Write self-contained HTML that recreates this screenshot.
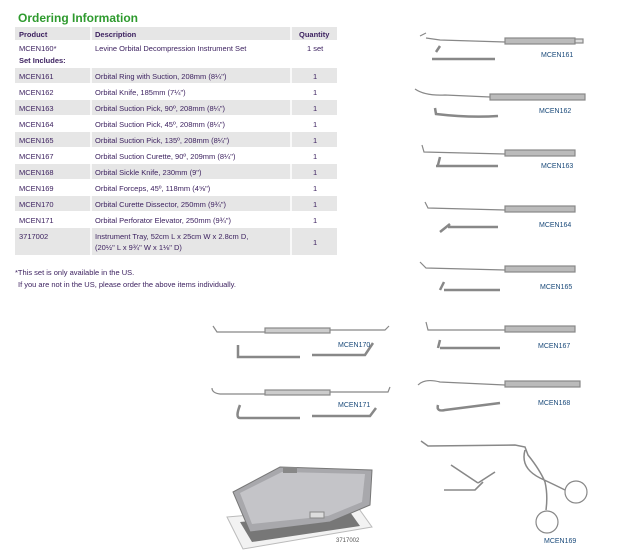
<!DOCTYPE html>
<html><head><meta charset="utf-8"><style>
body{margin:0;width:624px;height:559px;background:#fff;position:relative;overflow:hidden;font-family:"Liberation Sans",sans-serif}
.t{position:absolute;font-size:7.5px;color:#3d2260;white-space:nowrap}
.h{position:absolute;left:18px;top:11px;font-size:12px;font-weight:bold;color:#2e9a2e}
.r{position:absolute;left:15px;width:322px;}
.g{background:#e6e6e6}
.lbl{position:absolute;font-size:7px;color:#1a4a7a}
</style></head><body>
<div class="h">Ordering Information</div>
<div class="r g" style="top:27px;height:13px"></div>
<div class="r g" style="top:68px;height:15px"></div>
<div class="r g" style="top:100px;height:15px"></div>
<div class="r g" style="top:132px;height:15px"></div>
<div class="r g" style="top:164px;height:15px"></div>
<div class="r g" style="top:196px;height:15px"></div>
<div class="r g" style="top:228px;height:27px"></div>
<svg style="position:absolute;left:0;top:0" width="624" height="559">
<g stroke="#fff" stroke-width="1.5"><line x1="91" y1="27" x2="91" y2="256"/><line x1="291" y1="27" x2="291" y2="256"/></g>
<g fill="none" stroke="#888" stroke-width="1.2">
<path d="M420 36 l6 -3 M426 38 L440 40 L505 42"/><rect x="505" y="38" width="70" height="6" fill="#bbb"/><rect x="575" y="39" width="8" height="4" fill="#ddd"/>
<path d="M436 52 l4 -6 M432 59 L495 59" stroke-width="2.5"/>
<path d="M415 89 Q425 96 445 95 L490 97"/><rect x="490" y="94" width="95" height="6" fill="#bbb"/>
<path d="M435 108 L436 114 Q470 118 498 116" stroke-width="2.5"/>
<path d="M422 145 L424 152 L505 154"/><rect x="505" y="150" width="70" height="6" fill="#bbb"/>
<path d="M440 157 l-2 8 M436 166 L498 166" stroke-width="2.5"/>
<path d="M425 202 l3 6 L505 210"/><rect x="505" y="206" width="70" height="6" fill="#bbb"/>
<path d="M440 232 l10 -8 M448 227 L498 227" stroke-width="2.5"/>
<path d="M420 262 l6 6 L505 270"/><rect x="505" y="266" width="70" height="6" fill="#bbb"/>
<path d="M440 290 l4 -8 M444 290 L500 290" stroke-width="2.5"/>
<path d="M426 322 l2 8 L505 330"/><rect x="505" y="326" width="70" height="6" fill="#bbb"/>
<path d="M438 348 l2 -8 M440 348 L500 348" stroke-width="2.5"/>
<path d="M418 385 Q425 378 440 382 L505 385"/><rect x="505" y="381" width="75" height="6" fill="#bbb"/>
<path d="M438 405 Q436 412 445 410 L500 403" stroke-width="2.5"/>
<path d="M421 441 L428 446 L515 445 L525 447 L528 455 Q540 470 545 482 Q548 495 546 510 M525 450 Q520 468 540 478 Q555 485 565 490" stroke-width="1.5"/>
<circle cx="576" cy="492" r="11"/><circle cx="547" cy="522" r="11"/>
<path d="M451 465 L478 483 M444 490 L475 490 L483 482 M478 483 L495 472" stroke-width="1.6"/>
<path d="M213 326 l4 6 L265 332"/><rect x="265" y="328" width="65" height="5" fill="#ccc"/><path d="M330 330 L385 330 l4 -4"/>
<path d="M238 345 l0 12 L300 357 M312 355 L365 355 l8 -12" stroke-width="2.5"/>
<path d="M212 388 Q212 393 220 394 L265 394"/><rect x="265" y="390" width="65" height="5" fill="#ccc"/><path d="M330 392 L388 392 l2 -5"/>
<path d="M240 405 Q235 418 240 418 L300 418 M312 416 L370 416 l6 -8" stroke-width="2.5"/>
</g>
<g>
<polygon points="227,517 357,506 372,527 243,549" fill="#f2f2f2" stroke="#bbb"/>
<polygon points="240,522 350,512 360,526 252,542" fill="#777"/>
<polygon points="233,492 280,467 372,470 370,505 330,522 250,532" fill="#a8a8ac" stroke="#777"/>
<polygon points="240,493 282,472 365,474 362,502 328,516 252,524" fill="#c4c4c8"/>
<rect x="283" y="467" width="14" height="6" fill="#888"/>
<rect x="310" y="512" width="14" height="6" fill="#ddd" stroke="#888"/>
</g>
</svg>
<div class="t" style="left:19px;top:30px;font-weight:bold">Product</div>
<div class="t" style="left:95px;top:30px;font-weight:bold">Description</div>
<div class="t" style="left:299px;top:30px;font-weight:bold">Quantity</div>
<div class="t" style="left:19px;top:44px">MCEN160*</div><div class="t" style="left:95px;top:44px">Levine Orbital Decompression Instrument Set</div><div class="t" style="left:307px;top:44px">1 set</div>
<div class="t" style="left:19px;top:56px;font-weight:bold">Set Includes:</div>
<div class="t" style="left:19px;top:72px">MCEN161</div><div class="t" style="left:95px;top:72px">Orbital Ring with Suction, 208mm (8¼")</div><div class="t" style="left:313px;top:72px">1</div>
<div class="t" style="left:19px;top:88px">MCEN162</div><div class="t" style="left:95px;top:88px">Orbital Knife, 185mm (7¼")</div><div class="t" style="left:313px;top:88px">1</div>
<div class="t" style="left:19px;top:104px">MCEN163</div><div class="t" style="left:95px;top:104px">Orbital Suction Pick, 90º, 208mm (8¼")</div><div class="t" style="left:313px;top:104px">1</div>
<div class="t" style="left:19px;top:120px">MCEN164</div><div class="t" style="left:95px;top:120px">Orbital Suction Pick, 45º, 208mm (8¼")</div><div class="t" style="left:313px;top:120px">1</div>
<div class="t" style="left:19px;top:136px">MCEN165</div><div class="t" style="left:95px;top:136px">Orbital Suction Pick, 135º, 208mm (8¼")</div><div class="t" style="left:313px;top:136px">1</div>
<div class="t" style="left:19px;top:152px">MCEN167</div><div class="t" style="left:95px;top:152px">Orbital Suction Curette, 90º, 209mm (8¼")</div><div class="t" style="left:313px;top:152px">1</div>
<div class="t" style="left:19px;top:168px">MCEN168</div><div class="t" style="left:95px;top:168px">Orbital Sickle Knife, 230mm (9")</div><div class="t" style="left:313px;top:168px">1</div>
<div class="t" style="left:19px;top:184px">MCEN169</div><div class="t" style="left:95px;top:184px">Orbital Forceps, 45º, 118mm (4⅝")</div><div class="t" style="left:313px;top:184px">1</div>
<div class="t" style="left:19px;top:200px">MCEN170</div><div class="t" style="left:95px;top:200px">Orbital Curette Dissector, 250mm (9¾")</div><div class="t" style="left:313px;top:200px">1</div>
<div class="t" style="left:19px;top:216px">MCEN171</div><div class="t" style="left:95px;top:216px">Orbital Perforator Elevator, 250mm (9¾")</div><div class="t" style="left:313px;top:216px">1</div>
<div class="t" style="left:19px;top:232px">3717002</div><div class="t" style="left:95px;top:232px">Instrument Tray, 52cm L x 25cm W x 2.8cm D,</div><div class="t" style="left:95px;top:243px">(20½" L x 9¾" W x 1⅛" D)</div><div class="t" style="left:313px;top:238px">1</div>
<div class="t" style="left:15px;top:268px">*This set is only available in the US.</div>
<div class="t" style="left:18px;top:280px">If you are not in the US, please order the above items individually.</div>
<div class="lbl" style="left:541px;top:52px">MCEN161</div>
<div class="lbl" style="left:539px;top:108px">MCEN162</div>
<div class="lbl" style="left:541px;top:163px">MCEN163</div>
<div class="lbl" style="left:539px;top:222px">MCEN164</div>
<div class="lbl" style="left:540px;top:284px">MCEN165</div>
<div class="lbl" style="left:538px;top:343px">MCEN167</div>
<div class="lbl" style="left:538px;top:400px">MCEN168</div>
<div class="lbl" style="left:544px;top:538px">MCEN169</div>
<div class="lbl" style="left:338px;top:342px">MCEN170</div>
<div class="lbl" style="left:338px;top:402px">MCEN171</div>
<div class="lbl" style="left:336px;top:538px;font-size:6px;color:#555">3717002</div>
</body></html>
